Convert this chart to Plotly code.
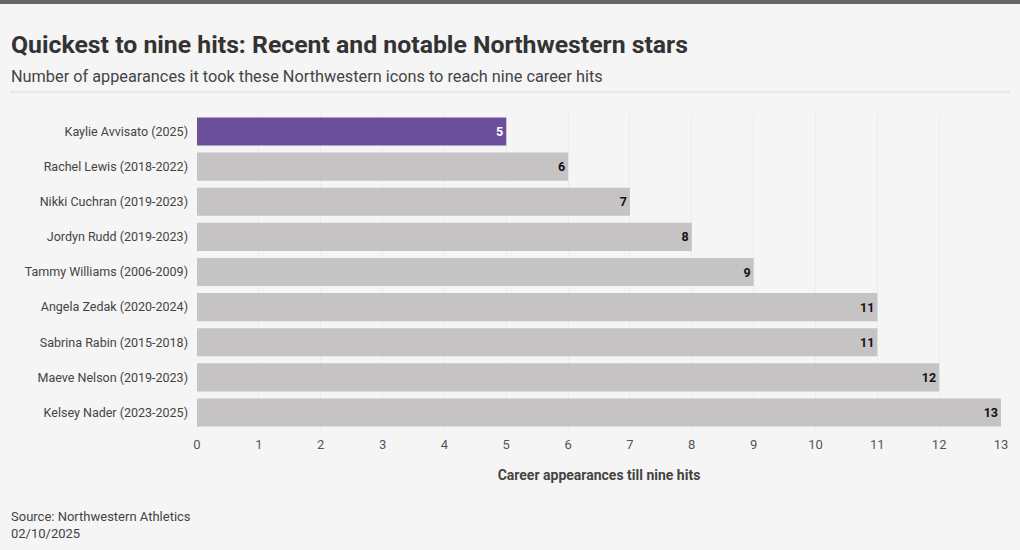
import plotly.graph_objects as go

names = ["Kaylie Avvisato (2025)", "Rachel Lewis (2018-2022)", "Nikki Cuchran (2019-2023)",
         "Jordyn Rudd (2019-2023)", "Tammy Williams (2006-2009)", "Angela Zedak (2020-2024)",
         "Sabrina Rabin (2015-2018)", "Maeve Nelson (2019-2023)", "Kelsey Nader (2023-2025)"]
appearances = [5, 6, 7, 8, 9, 11, 11, 12, 13]
tick_vals = list(range(0, 14))

PURPLE = "#6c4f9a"
GRAY = "#c5c3c4"
BG = "#f5f5f5"
FONT = "Roboto, sans-serif"

colors = [PURPLE if i == 0 else GRAY for i in range(len(names))]
textcolors = ["#ffffff" if i == 0 else "#111111" for i in range(len(names))]

PH = 316.0  # plot height in px
PW = 804.0  # plot width in px

def py(pix):  # pixel y from top of figure -> paper coordinate
    return (430 - pix) / PH

def px(pix):  # pixel x from left -> paper coordinate
    return (pix - 197) / PW

fig = go.Figure(go.Bar(
    y=names, x=appearances, orientation="h",
    marker=dict(color=colors, line=dict(width=0)),
    text=[str(v) for v in appearances], textposition="inside", insidetextanchor="end",
    textfont=dict(family=FONT, size=12.5, color=textcolors, weight="bold"),
    hoverinfo="skip", cliponaxis=False,
))

fig.update_layout(
    width=1020, height=550,
    paper_bgcolor=BG, plot_bgcolor=BG,
    margin=dict(l=197, r=19, t=114, b=120),
    bargap=0.2,
    showlegend=False,
    font=dict(family=FONT, color="#333333"),
    xaxis=dict(range=[0, 13], tickvals=tick_vals, showgrid=True, gridcolor="#ebebeb",
               zeroline=False, showline=False, ticks="", ticklabelstandoff=5,
               tickfont=dict(size=13, color="#555555"),
               title=dict(text="<b>Career appearances till nine hits</b>", font=dict(size=14, color="#444444"),
                          standoff=19)),
    yaxis=dict(autorange="reversed", showgrid=False, zeroline=False, ticks="", ticklabelstandoff=8,
               tickfont=dict(size=12.5, color="#444444")),
)

# top border
fig.add_shape(type="rect", xref="paper", yref="paper", x0=px(0), x1=px(1020), y0=py(4), y1=py(0),
              line=dict(width=0), fillcolor="#666666")
# separator under subtitle
fig.add_shape(type="line", xref="paper", yref="paper", x0=px(10), x1=px(1010),
              y0=py(92), y1=py(92), line=dict(width=1, color="#dcdcdc"))

fig.add_annotation(text="<b>Quickest to nine hits: Recent and notable Northwestern stars</b>",
                   xref="paper", yref="paper", x=px(9), y=py(45), xanchor="left", yanchor="middle",
                   showarrow=False, font=dict(size=24.8, color="#333333", family=FONT))
fig.add_annotation(text="Number of appearances it took these Northwestern icons to reach nine career hits",
                   xref="paper", yref="paper", x=px(9), y=py(76), xanchor="left", yanchor="middle",
                   showarrow=False, font=dict(size=16.3, color="#444444", family=FONT))
fig.add_annotation(text="Source: Northwestern Athletics<br>02/10/2025",
                   xref="paper", yref="paper", x=px(9), y=py(507), xanchor="left", yanchor="top",
                   align="left", showarrow=False, font=dict(size=13, color="#444444", family=FONT))

fig.write_html("out.html", config={"displayModeBar": False},
               post_script="document.body.style.margin='0';document.body.style.padding='0';")
